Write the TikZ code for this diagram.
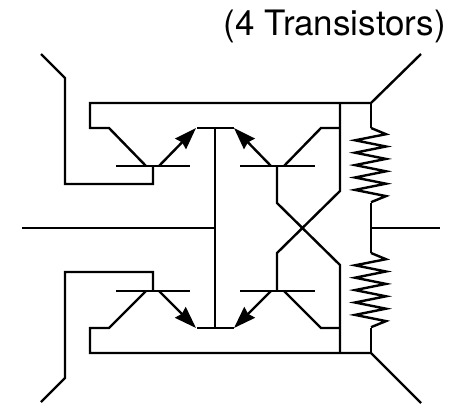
\documentclass[tikz,border=0pt]{standalone}
\usepackage{fontspec}
\setmainfont{TeX Gyre Heros}
\usetikzlibrary{arrows.meta}
\tikzset{
  wire/.style={draw=black,line width=2.4pt,line join=miter,line cap=butt},
  emit/.style={wire,-{Stealth[length=22pt,width=15pt,inset=2pt]}},
  caption/.style={anchor=base east,inner sep=0pt,font=\fontsize{35}{40}\selectfont}
}
\newcommand{\zigzag}[1]{
  \draw[wire] (#1) -- ++(15,6.2) -- ++(-31,6.1) -- ++(31,6.2) -- ++(-31,6.2) -- ++(31,6.2)
    -- ++(-31,6.2) -- ++(31,6.2) -- ++(-31,6.2) -- ++(31,6.2) -- ++(-31,6.2) -- ++(31,6.2) -- ++(-15,6.1);
}
\begin{document}
\begin{tikzpicture}[x=1pt,y=-1pt]
\useasboundingbox (0,0) rectangle (451,405);
\node[caption] (title) at (446,35) {(4 Transistors)};
% junctions
\coordinate (railT) at (371,103);
\coordinate (railB) at (371,353);
\coordinate (outT) at (421,54);
\coordinate (outB) at (421,403);
\coordinate (rTopA) at (371,128);
\coordinate (rTopB) at (371,203);
\coordinate (rBotA) at (371,253);
\coordinate (rBotB) at (371,328);
\coordinate (mid) at (371,228);
\coordinate (outM) at (440,228);
\coordinate (busT) at (215,128);
\coordinate (busB) at (215,328);
\coordinate (inM) at (22,228);
\coordinate (busMid) at (215,228);
% rails
\draw[wire] (outT) -- (railT) -- (90,103) -- (90,128) -- (109,128) -- (146,166);
\draw[wire] (outB) -- (railB) -- (90,353) -- (90,328) -- (109,328) -- (146,291);
\draw[wire] (340,103) -- (340,191) -- (277,253) -- (277,291);
\draw[wire] (340,353) -- (340,265) -- (277,203) -- (277,166);
\draw[wire] (340,128) -- (321,128) -- (284,166);
\draw[wire] (340,328) -- (321,328) -- (284,291);
% base bars
\draw[wire] (116,166) -- (190,166);
\draw[wire] (240,166) -- (315,166);
\draw[wire] (116,291) -- (190,291);
\draw[wire] (240,291) -- (315,291);
% left inputs
\draw[wire] (41,54) -- (65,78) -- (65,184) -- (153,184) -- (153,166);
\draw[wire] (41,402) -- (65,378) -- (65,272) -- (153,272) -- (153,291);
% centre bus
\draw[wire] (197,128) -- (234,128);
\draw[wire] (197,328) -- (234,328);
\draw[wire] (busT) -- (busB);
\draw[wire] (inM) -- (busMid);
% emitters
\draw[emit] (159,166) -- (196,128);
\draw[emit] (271,166) -- (234,128);
\draw[emit] (159,291) -- (196,328);
\draw[emit] (271,291) -- (234,328);
% resistors
\draw[wire] (railT) -- (rTopA);
\zigzag{rTopA}
\draw[wire] (rTopB) -- (rBotA);
\zigzag{rBotA}
\draw[wire] (rBotB) -- (railB);
\draw[wire] (mid) -- (outM);
\end{tikzpicture}
\end{document}
